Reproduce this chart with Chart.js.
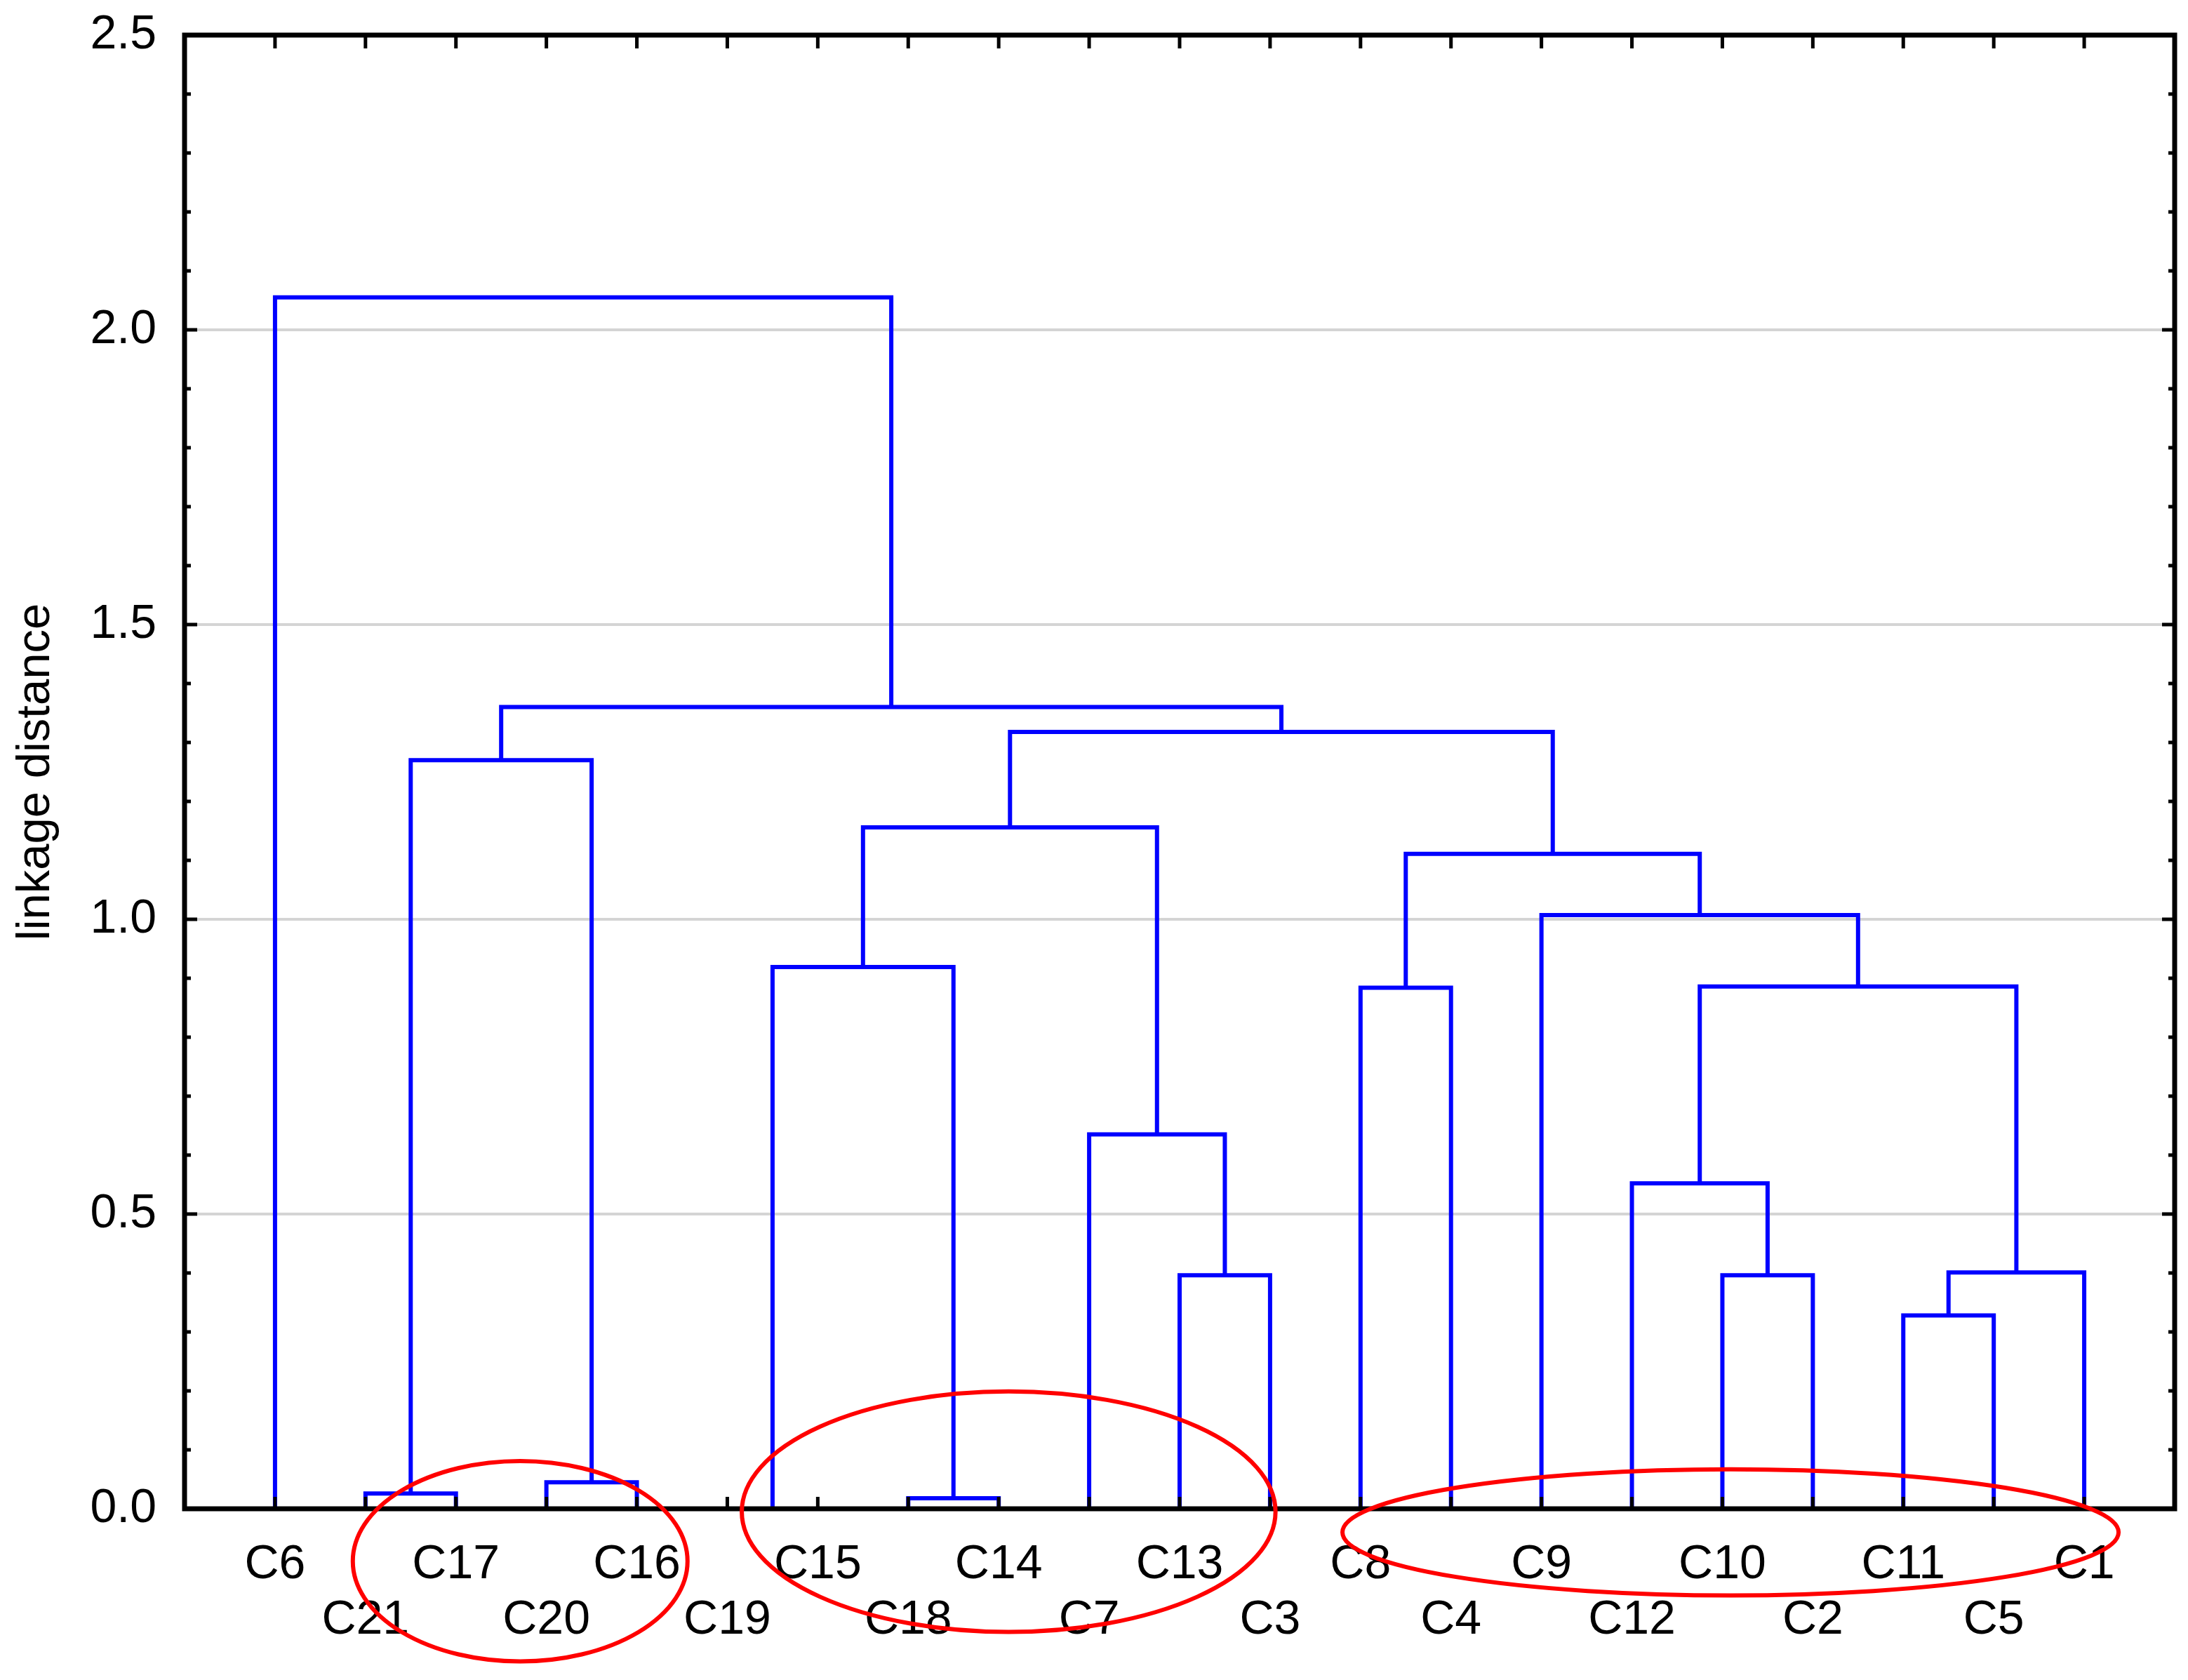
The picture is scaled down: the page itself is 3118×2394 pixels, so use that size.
<!DOCTYPE html>
<html>
<head>
<meta charset="utf-8">
<script src="https://cdn.jsdelivr.net/npm/chart.js@4.4.0/dist/chart.umd.min.js"></script>
<style>
  html, body { margin: 0; padding: 0; background: #fff; }
  canvas { display: block; }
</style>
</head>
<body>
<canvas id="dendro" width="3118" height="2394"></canvas>
<script>
// leaves in plotting order (left to right)
const leafLabels = ['C6', 'C21', 'C17', 'C20', 'C16', 'C19', 'C15', 'C18', 'C14', 'C7', 'C13',
    'C3', 'C8', 'C4', 'C9', 'C12', 'C10', 'C2', 'C11', 'C5', 'C1'];

// merge steps: ids 0-20 are leaves (by position), id 21+k is the k-th merge
const mergeLeft   = [5, 7, 1, 3, 18, 10, 16, 25, 15, 9, 12, 29, 21, 14, 31, 33, 23, 36, 37, 0];
const mergeRight  = [6, 8, 2, 4, 19, 11, 17, 20, 27, 26, 13, 28, 22, 32, 34, 30, 24, 35, 38, 39];
const mergeHeight = [0.0, 0.018, 0.026, 0.045, 0.328, 0.396, 0.396, 0.401, 0.552, 0.635,
    0.884, 0.886, 0.919, 1.007, 1.111, 1.156, 1.270, 1.318, 1.360, 2.055];

const yTicks = [0, 0.5, 1.0, 1.5, 2.0, 2.5];

// red hand drawn rings, in axis units (leaf index / linkage distance)
const rings = [
    {x: 2.71, y: -0.089, rx: 1.85, ry: 0.170},
    {x: 8.11, y: -0.005, rx: 2.95, ry: 0.204},
    {x: 16.09, y: -0.040, rx: 4.29, ry: 0.107}
];

const FONT = "'Liberation Sans', Arial, sans-serif";
Chart.defaults.font.family = FONT;
Chart.defaults.color = '#000';

// build the U shapes of the tree
const nodeX = leafLabels.map((_, i) => i);
const nodeH = leafLabels.map(() => 0);
const links = [];
mergeHeight.forEach((h, k) => {
    const a = mergeLeft[k];
    const b = mergeRight[k];
    links.push(
        {x: nodeX[a], y: nodeH[a]},
        {x: nodeX[a], y: h},
        {x: nodeX[b], y: h},
        {x: nodeX[b], y: nodeH[b]},
        {x: nodeX[b], y: null}
    );
    nodeX.push((nodeX[a] + nodeX[b]) / 2);
    nodeH.push(h);
});

// no extra room for label overhang, the layout padding handles it
function noOverhang(s) {
    s.paddingTop = 0;
    s.paddingBottom = 0;
    s.paddingLeft = 0;
    s.paddingRight = 0;
}

// box around the plot with inward ticks
const framePlugin = {
    id: 'frame',
    afterDatasetsDraw(chart) {
        const {ctx, chartArea: a, scales: {x, y}} = chart;
        ctx.save();
        ctx.strokeStyle = '#000';
        ctx.lineWidth = 5;
        ctx.beginPath();
        leafLabels.forEach((_, i) => {
            const px = x.getPixelForValue(i);
            ctx.moveTo(px, a.bottom);
            ctx.lineTo(px, a.bottom - 17);
            ctx.moveTo(px, a.top);
            ctx.lineTo(px, a.top + 19);
        });
        for (let i = 1; i < 25; i++) {
            const py = y.getPixelForValue(i / 10);
            const len = i % 5 === 0 ? 18 : 9;
            ctx.moveTo(a.left, py);
            ctx.lineTo(a.left + len, py);
            ctx.moveTo(a.right, py);
            ctx.lineTo(a.right - len, py);
        }
        ctx.stroke();
        ctx.lineWidth = 7;
        ctx.strokeRect(a.left, a.top, a.right - a.left, a.bottom - a.top);
        ctx.restore();
    }
};

const ringPlugin = {
    id: 'rings',
    afterDraw(chart) {
        const {ctx, scales: {x, y}} = chart;
        ctx.save();
        ctx.strokeStyle = '#ff0000';
        ctx.lineWidth = 6;
        rings.forEach(r => {
            const cx = x.getPixelForValue(r.x);
            const cy = y.getPixelForValue(r.y);
            const rx = Math.abs(x.getPixelForValue(r.x + r.rx) - cx);
            const ry = Math.abs(y.getPixelForValue(r.y + r.ry) - cy);
            ctx.beginPath();
            ctx.ellipse(cx, cy, rx, ry, 0, 0, Math.PI * 2);
            ctx.stroke();
        });
        ctx.restore();
    }
};

new Chart(document.getElementById('dendro'), {
    type: 'scatter',
    data: {
        datasets: [{
            data: links,
            showLine: true,
            spanGaps: false,
            borderColor: '#0000ff',
            borderWidth: 6,
            pointRadius: 0,
            pointHoverRadius: 0,
            fill: false,
            tension: 0
        }]
    },
    options: {
        responsive: false,
        animation: false,
        devicePixelRatio: 1,
        layout: {padding: {top: 50, right: 19, left: 0, bottom: 0}},
        plugins: {
            legend: {display: false},
            tooltip: {enabled: false}
        },
        scales: {
            x: {
                type: 'linear',
                min: -1,
                max: 21,
                grid: {display: false, drawTicks: false},
                border: {display: false},
                afterBuildTicks: s => { s.ticks = leafLabels.map((_, i) => ({value: i})); },
                afterFit: s => { s.height = 244; noOverhang(s); },
                ticks: {
                    autoSkip: false,
                    maxRotation: 0,
                    padding: 40,
                    font: {size: 68, lineHeight: 1.17},
                    callback: v => v % 2 === 0 ? leafLabels[v] : ['', leafLabels[v]]
                }
            },
            y: {
                min: 0,
                max: 2.5,
                afterBuildTicks: s => { s.ticks = yTicks.map(v => ({value: v})); },
                afterFit: s => { s.width = 263; noOverhang(s); },
                grid: {
                    drawTicks: false,
                    lineWidth: 4,
                    color: c => (c.tick && c.tick.value > 0 && c.tick.value < 2.5) ? '#d4d4d4' : 'rgba(0,0,0,0)'
                },
                border: {display: false},
                ticks: {
                    padding: 40,
                    font: {size: 68},
                    callback: v => v.toFixed(1)
                },
                title: {
                    display: true,
                    text: 'linkage distance',
                    font: {size: 67},
                    padding: {top: 11, bottom: 0}
                }
            }
        }
    },
    plugins: [framePlugin, ringPlugin]
});
</script>
</body>
</html>
